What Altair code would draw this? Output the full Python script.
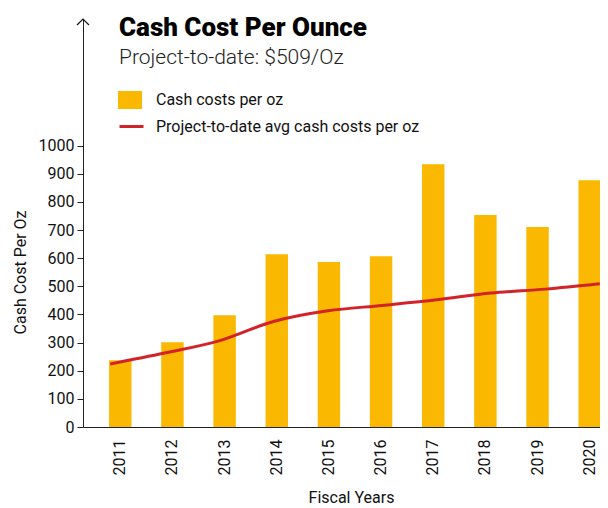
import altair as alt
import pandas as pd

years = ["2011", "2012", "2013", "2014", "2015", "2016", "2017", "2018", "2019", "2020"]
cash_costs = [237, 301, 397, 614, 586, 607, 934, 753, 711, 877]
ptd_avg = [224, 263, 306, 375, 413, 432, 452, 476, 490, 509]
y_ticks = [0, 100, 200, 300, 400, 500, 600, 700, 800, 900, 1000]
y_top = 1450

bar_label = "Cash costs per oz"
line_label = "Project-to-date avg cash costs per oz"
YELLOW = "#FAB800"
RED = "#D2232A"
FONT = "Roboto"

df = pd.DataFrame({"year": years, "cash": cash_costs, "avg": ptd_avg,
                   "s_bar": bar_label, "s_line": line_label})
arrow_df = pd.DataFrame({"v": [y_top]})

W, H = 544, 408

y_scale = alt.Scale(domain=[0, y_top], nice=False, zero=True)

bars = alt.Chart(df).mark_bar().encode(
    x=alt.X("year:O", title="Fiscal Years",
            scale=alt.Scale(paddingInner=0.57, paddingOuter=0.5),
            axis=alt.Axis(labelAngle=270, ticks=False, labelPadding=12,
                          labelFontSize=16, labelFont=FONT, labelColor="#111",
                          labelAlign="right", labelBaseline="middle",
                          domainColor="#222", domainWidth=1.2,
                          titleFont=FONT, titleFontSize=16, titleFontWeight="normal",
                          titleColor="#111", titleX=268, titleY=62,
                          titleBaseline="top", titleAlign="center")),
    y=alt.Y("cash:Q", title="Cash Cost Per Oz", scale=y_scale,
            axis=alt.Axis(values=y_ticks, format="d", grid=False, tickSize=6,
                          tickColor="#222", domainColor="#222", labelFontSize=16,
                          labelFont=FONT, labelColor="#111", labelPadding=3,
                          titleFont=FONT, titleFontSize=16, titleFontWeight="normal",
                          titleColor="#111", titleX=-63, titleY=253,
                          titleAlign="center", titleBaseline="middle", titleAngle=270)),
    fill=alt.Fill("s_bar:N", scale=alt.Scale(domain=[bar_label], range=[YELLOW]),
                  legend=alt.Legend(title=None, orient="none", legendX=35, legendY=69,
                                    symbolType="M-1,-0.75H1V0.75H-1Z", symbolSize=576,
                                    symbolStrokeWidth=0, labelFont=FONT, labelFontSize=16,
                                    labelColor="#111", labelOffset=14, padding=0,
                                    labelLimit=0)),
)

line = alt.Chart(df).mark_line(strokeWidth=3, interpolate="monotone").encode(
    x=alt.X("year:O", scale=alt.Scale(type="point", padding=0.5), axis=None),
    y=alt.Y("avg:Q", scale=y_scale),
    stroke=alt.Stroke("s_line:N", scale=alt.Scale(domain=[line_label], range=[RED]),
                      legend=alt.Legend(title=None, orient="none", legendX=35, legendY=94,
                                        symbolType="stroke", symbolSize=576,
                                        symbolStrokeWidth=3, labelFont=FONT,
                                        labelFontSize=16, labelColor="#111",
                                        labelOffset=11, padding=0, labelLimit=0)),
)

arrow = alt.Chart(arrow_df).mark_point(
    shape="M-1,1L0,0L1,1", size=144, filled=False, color="#111", strokeWidth=1.2, opacity=1
).encode(
    x=alt.value(0),
    y=alt.Y("v:Q", scale=y_scale),
)

chart = alt.layer(bars, line, arrow).resolve_scale(x="independent").properties(
    width=W, height=H,
    autosize=alt.AutoSizeParams(type="none"),
    padding={"left": 75, "top": 11, "right": -27, "bottom": 81},
    title=alt.TitleParams(
        text="Cash Cost Per Ounce",
        subtitle="Project-to-date: $509/Oz",
        anchor="start", frame="group", orient="top",
        dx=36, offset=-51,
        font=FONT, fontSize=26, fontWeight=900, color="#000",
        subtitleFont=FONT, subtitleFontSize=21, subtitleFontWeight=300,
        subtitleColor="#222", subtitlePadding=6,
    ),
).configure_view(stroke=None)

chart.save("out.html", embed_options={"renderer": "svg", "actions": False})
